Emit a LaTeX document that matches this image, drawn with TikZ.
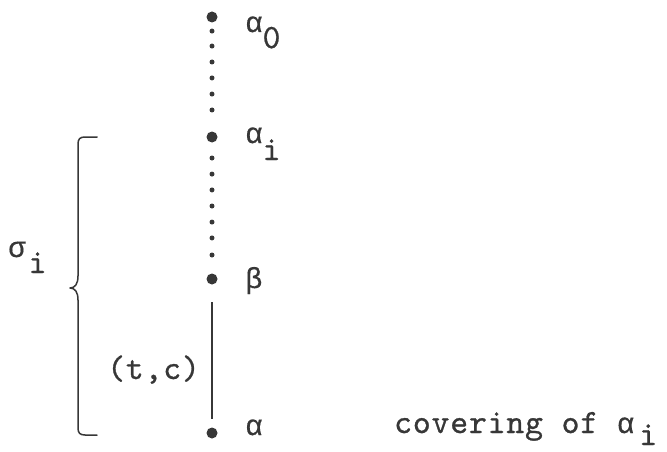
\documentclass[tikz,border=0pt]{standalone}
\usepackage{fontspec}
\newfontfamily\tw[LetterSpace=2.5,FakeBold=0.8]{lmmono10-regular.otf}
\newfontfamily\gk[FakeBold=0.4]{Liberation Mono}
\definecolor{ink}{RGB}{55,55,55}
\begin{document}
\begin{tikzpicture}[x=1pt,y=-1pt,
  bigdot/.style={circle,fill=ink,inner sep=0pt,minimum size=11pt},
  smalldot/.style={circle,fill=ink,inner sep=0pt,minimum size=5pt},
  lbl/.style={inner sep=0pt,anchor=base west,font=\tw\fontsize{34}{34}\selectfont,text=ink},
  edge/.style={draw=ink,line width=1.6pt},
  bracestyle/.style={draw=ink,line width=1.5pt,line cap=round,line join=round}]
\newcommand\gr[1]{{\gk\fontsize{29}{29}\selectfont #1}}
\useasboundingbox (0,0) rectangle (667,452);
% vertices
\node[bigdot] (a0) at (212,17) {};
\node[bigdot] (ai) at (212,137) {};
\node[bigdot] (b)  at (212,279) {};
\node[bigdot] (a)  at (212,433) {};
% dotted connectors
\path (a0.center) -- (ai.center)
  foreach \p in {0.117,0.242,0.375,0.508,0.642,0.775} {node[smalldot,pos=\p]{}};
\path (ai.center) -- (b.center)
  foreach \p in {0.148,0.261,0.373,0.486,0.599,0.711,0.831} {node[smalldot,pos=\p]{}};
% solid connector
\draw[edge,shorten <=23pt,shorten >=14pt] (b.center) -- (a.center);
% labels
\node[lbl] (la0) at (245,32) {\gr{α}\raisebox{-16pt}{0}};
\node[lbl] (lai) at (245,143) {\gr{α}\raisebox{-17pt}{i}};
\node[lbl] (lb)  at (245,288) {\gr{β}};
\node[lbl] (la)  at (245,435) {\gr{α}};
\node[lbl] (cov) at (394,433) {covering of \gr{α}\hspace{5pt}\raisebox{-12pt}{i}};
\node[lbl] (sig) at (8,257) {\gr{σ}\hspace{3pt}\raisebox{-16pt}{i}};
\node[lbl] (tc)  at (107,379) {(t,c)};
% brace
\draw[bracestyle] (97,137) -- (85,137) .. controls (80,137) and (78,139) .. (78,144)
  -- (78,276) .. controls (78,284) and (75,288) .. (70,288)
  .. controls (75,288) and (78,292) .. (78,300)
  -- (78,428) .. controls (78,433) and (80,435) .. (85,435) -- (97,435);
\end{tikzpicture}
\end{document}
